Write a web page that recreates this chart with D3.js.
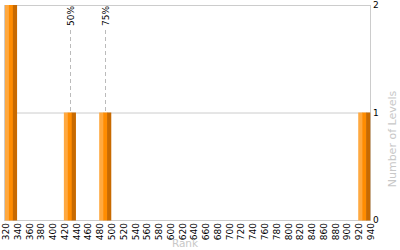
<!DOCTYPE html>
<html><head><meta charset="utf-8">
<script src="https://cdn.jsdelivr.net/npm/d3@7"></script>
<style>body{margin:0;background:#fff}svg{display:block}text{font-family:"DejaVu Sans",Verdana,sans-serif}</style>
</head><body><svg id="c" width="400" height="250"></svg>
<script>
const binStarts = [320,340,360,380,400,420,440,460,480,500,520,540,560,580,600,620,640,660,680,700,720,740,760,780,800,820,840,860,880,900,920];
const counts    = [2,0,0,0,0,1,0,0,1,0,0,0,0,0,0,0,0,0,0,0,0,0,0,0,0,0,0,0,0,0,1];
const binWidth = 20;
const xTicks = [320,340,360,380,400,420,440,460,480,500,520,540,560,580,600,620,640,660,680,700,720,740,760,780,800,820,840,860,880,900,920,940];
const yTicks = [0,1,2];
const percentileLabels = ["50%","75%"];
const percentileValues = [430,490];

const svg = d3.select("#c");
const L=5,R=370,T=5,B=220;
const x = d3.scaleLinear().domain([320,940]).range([L,R]);
const y = d3.scaleLinear().domain([0,2]).range([B,T]);

// grid
svg.selectAll("line.grid").data(yTicks).enter().append("line")
  .attr("x1",L-1).attr("x2",R).attr("y1",d=>y(d)+0.5).attr("y2",d=>y(d)+0.5)
  .attr("stroke","#cccccc").attr("stroke-width",1);
svg.append("line").attr("x1",R+0.5).attr("x2",R+0.5).attr("y1",T).attr("y2",B+1).attr("stroke","#cccccc");
svg.append("line").attr("x1",L-0.5).attr("x2",L-0.5).attr("y1",T).attr("y2",B+1).attr("stroke","#cccccc");

// bars
const data = binStarts.map((s,i)=>({s,c:counts[i]})).filter(d=>d.c>0);
const g = svg.selectAll("g.bar").data(data).enter().append("g");
const shades = ["#ffa940","#ff8c00","#c86a00"];
shades.forEach((col,k)=>{
  g.append("rect")
   .attr("x",d=>{const x0=x(d.s),w=x(d.s+binWidth)-x0;return x0+w*k/3;})
   .attr("width",d=>(x(d.s+binWidth)-x(d.s))/3+0.3)
   .attr("y",d=>y(d.c)).attr("height",d=>B-y(d.c)+0.5)
   .attr("fill",col);
});

// percentile lines
percentileValues.forEach((v,i)=>{
  svg.append("line").attr("x1",Math.round(x(v))+0.5).attr("x2",Math.round(x(v))+0.5)
    .attr("y1",30).attr("y2",y(1)).attr("stroke","#bbbbbb").attr("stroke-dasharray","4,3");
  svg.append("text").attr("transform",`translate(${Math.round(x(v))+4},6) rotate(-90)`)
    .attr("text-anchor","end").attr("font-size",9).attr("fill","#000").text(percentileLabels[i]);
});

// x tick labels
svg.selectAll("text.xt").data(xTicks).enter().append("text")
  .attr("transform",d=>`translate(${x(d)+4},223) rotate(-90)`)
  .attr("text-anchor","end").attr("font-size",9).attr("fill","#000").text(d=>d);

// y tick labels
svg.selectAll("text.yt").data(yTicks).enter().append("text")
  .attr("x",373).attr("y",d=>y(d)+3).attr("font-size",9).attr("fill","#000").text(d=>d);

svg.append("text").attr("x",185).attr("y",247).attr("text-anchor","middle")
  .attr("font-size",10.5).attr("fill","#c8c8c8").text("Rank");
svg.append("text").attr("transform","translate(396,139) rotate(-90)").attr("text-anchor","middle")
  .attr("font-size",11).attr("fill","#c8c8c8").text("Number of Levels");
</script></body></html>
